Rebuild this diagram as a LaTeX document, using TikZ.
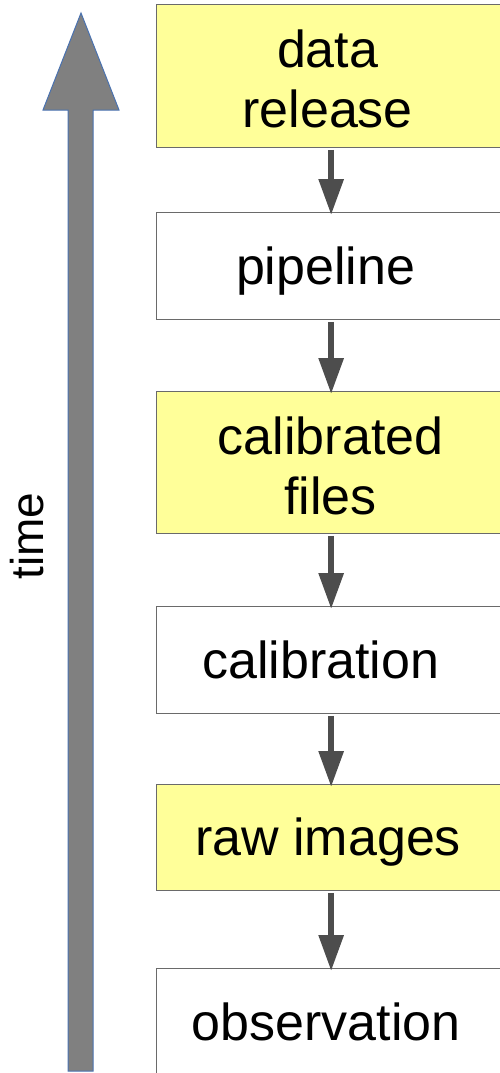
\documentclass[tikz,border=0pt]{standalone}
\usepackage{fontspec}
\setmainfont{Liberation Sans}
\usetikzlibrary{arrows.meta}

\definecolor{hiyellow}{HTML}{FFFF99}
\definecolor{boxline}{HTML}{6A6A6A}
\definecolor{flowgray}{HTML}{4D4D4D}
\definecolor{timefill}{HTML}{808080}
\definecolor{timeline}{HTML}{4A72B0}

\tikzset{
  stagebox/.style={draw=boxline, line width=1.3pt, anchor=north west,
    inner sep=0pt, minimum width=349pt},
  product/.style={stagebox, fill=hiyellow},
  process/.style={stagebox, fill=white},
  lbl/.style={font=\fontsize{52}{60}\selectfont, align=center, inner sep=0pt},
  oneline/.style={lbl, text height=47pt, text depth=11pt},
  twoline/.style={lbl, text height=107pt, text depth=4pt},
  flow/.style={draw=flowgray, line width=6pt,
    -{Triangle[width=24pt,length=36pt]}},
  timearrow/.style={fill=timefill, draw=timeline, line width=1pt, line join=miter}
}

\begin{document}
\begin{tikzpicture}[x=1pt, y=-1pt]
  \useasboundingbox (0,0) rectangle (500,1073);

  % time axis
  \draw[timearrow] (81,13) -- (119,110) -- (93,110) -- (93,1071)
    -- (68,1071) -- (68,110) -- (43,110) -- cycle;
  \node[rotate=90, anchor=base, inner sep=0pt,
        font=\fontsize{46}{54}\selectfont] (time) at (43,536) {time};

  % stages, from release down to observation
  \node[product, minimum height=143pt] (b1) at (156,4) {};
  \node[process, minimum height=107pt] (b2) at (156,212) {};
  \node[product, minimum height=142pt] (b3) at (156,391) {};
  \node[process, minimum height=107pt] (b4) at (156,606) {};
  \node[product, minimum height=106pt] (b5) at (156,784) {};
  \node[process, minimum height=120pt] (b6) at (156,968) {};

  \node[twoline] (t1) at ([xshift=-3.5pt]b1.center) {data\\release};
  \node[oneline] (t2) at ([xshift=-5.5pt]b2.center) {pipeline};
  \node[twoline] (t3) at ([xshift=-0.5pt]b3.center) {calibrated\\files};
  \node[oneline] (t4) at ([xshift=-10.5pt]b4.center) {calibration};
  \node[oneline] (t5) at ([xshift=-3pt]b5.center) {raw images};
  \node[oneline] (t6) at (326,1022) {observation};

  % flow arrows
  \foreach \a/\b in {b1/b2, b2/b3, b3/b4, b4/b5, b5/b6}
    \draw[flow] ([yshift=-1.5pt]\a.south) -- ([yshift=-3pt]\b.north);
\end{tikzpicture}
\end{document}
